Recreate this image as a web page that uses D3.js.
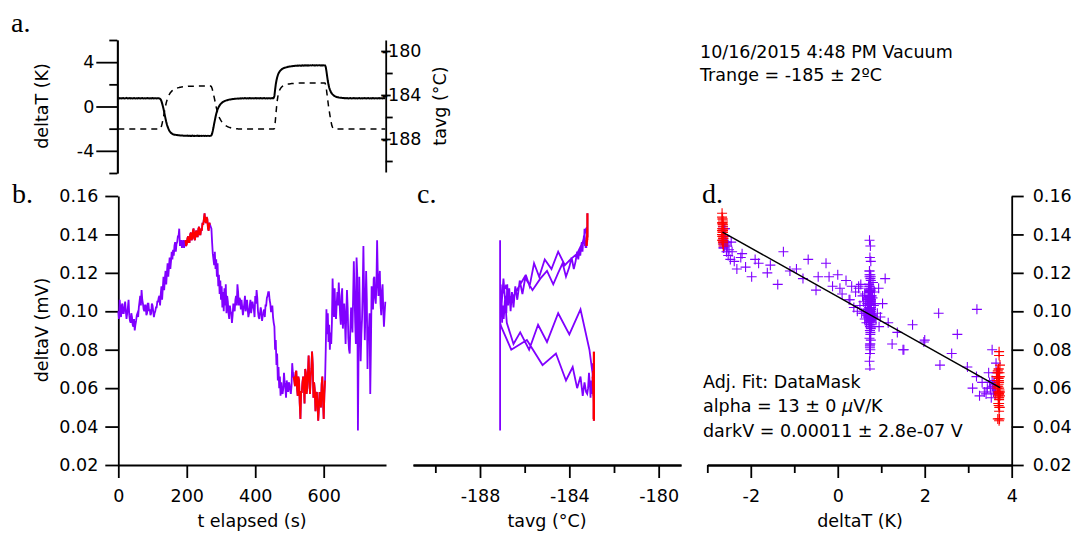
<!DOCTYPE html>
<html>
<head>
<meta charset="utf-8">
<script src="https://cdn.jsdelivr.net/npm/d3@7"></script>
<style>
  body { margin: 0; background: #fff; }
  svg { display: block; }
</style>
</head>
<body>
<div id="chart"></div>
<script>
// logged waves, one sample every 2 s (Igor style x scaling)
const tStart = 0, tDelta = 2;

// deltaV (mV)
const deltaV = [
  0.100,0.096,0.106,0.101,0.097,0.103,0.104,0.099,0.099,0.102,0.105,0.100,0.096,0.099,0.102,0.106,0.098,0.095,0.094,0.099,
  0.097,0.093,0.092,0.096,0.090,0.093,0.095,0.098,0.099,0.097,0.102,0.105,0.108,0.103,0.111,0.106,0.104,0.101,0.100,0.103,
  0.103,0.098,0.099,0.104,0.104,0.100,0.101,0.098,0.099,0.104,0.103,0.100,0.097,0.099,0.100,0.102,0.102,0.105,0.105,0.107,
  0.108,0.103,0.109,0.113,0.106,0.112,0.118,0.111,0.117,0.121,0.114,0.120,0.125,0.118,0.123,0.128,0.122,0.126,0.131,0.127,
  0.132,0.129,0.134,0.136,0.131,0.135,0.136,0.139,0.139,0.143,0.134,0.136,0.137,0.133,0.135,0.137,0.133,0.135,0.137,0.134,
  0.135,0.138,0.139,0.136,0.136,0.140,0.141,0.137,0.138,0.142,0.143,0.138,0.137,0.141,0.142,0.139,0.139,0.143,0.144,0.140,
  0.140,0.143,0.142,0.146,0.145,0.148,0.151,0.147,0.146,0.149,0.148,0.143,0.142,0.146,0.145,0.144,0.143,0.136,0.130,0.127,
  0.124,0.131,0.122,0.127,0.118,0.125,0.113,0.119,0.109,0.116,0.106,0.113,0.102,0.110,0.100,0.112,0.103,0.114,0.099,0.108,
  0.105,0.099,0.096,0.103,0.100,0.099,0.094,0.098,0.104,0.101,0.100,0.106,0.108,0.103,0.114,0.110,0.103,0.107,0.106,0.101,
  0.106,0.102,0.098,0.101,0.104,0.108,0.100,0.103,0.106,0.101,0.097,0.099,0.103,0.106,0.099,0.102,0.105,0.103,0.101,0.097,
  0.108,0.104,0.111,0.107,0.100,0.097,0.096,0.099,0.102,0.100,0.095,0.098,0.099,0.101,0.097,0.103,0.103,0.107,0.108,0.110,
  0.110,0.106,0.104,0.100,0.100,0.103,0.097,0.094,0.092,0.080,0.085,0.072,0.078,0.064,0.071,0.060,0.066,0.056,0.063,0.058,
  0.057,0.060,0.068,0.063,0.060,0.055,0.064,0.061,0.058,0.063,0.062,0.059,0.057,0.061,0.073,0.068,0.066,0.064,0.061,0.068,
  0.069,0.060,0.056,0.066,0.064,0.052,0.044,0.058,0.058,0.063,0.066,0.061,0.052,0.070,0.068,0.057,0.060,0.068,0.077,0.065,
  0.057,0.066,0.070,0.079,0.072,0.055,0.063,0.059,0.048,0.056,0.058,0.051,0.043,0.050,0.058,0.055,0.050,0.062,0.066,0.054,
  0.044,0.057,0.064,0.080,0.101,0.088,0.099,0.084,0.093,0.080,0.089,0.083,0.094,0.117,0.104,0.097,0.112,0.099,0.096,0.104,
  0.110,0.103,0.115,0.107,0.098,0.093,0.108,0.112,0.091,0.097,0.104,0.095,0.083,0.099,0.111,0.102,0.086,0.080,0.078,0.092,
  0.102,0.095,0.089,0.108,0.126,0.110,0.094,0.083,0.128,0.119,0.038,0.081,0.118,0.097,0.074,0.088,0.096,0.112,0.134,0.110,
  0.085,0.100,0.121,0.106,0.070,0.092,0.090,0.099,0.057,0.082,0.113,0.110,0.101,0.117,0.118,0.107,0.104,0.113,0.137,0.119,
  0.108,0.116,0.121,0.104,0.098,0.110,0.114,0.101,0.092,0.099,0.105
];

// deltaT (K)
const deltaT = [
  0.74,0.76,0.73,0.75,0.74,0.72,0.75,0.76,0.74,0.73,0.75,0.74,0.77,0.74,0.73,0.75,0.74,0.76,0.73,0.74,
  0.75,0.73,0.74,0.76,0.74,0.73,0.75,0.74,0.72,0.75,0.76,0.74,0.73,0.75,0.74,0.76,0.74,0.73,0.75,0.74,
  0.73,0.75,0.74,0.76,0.74,0.73,0.75,0.74,0.72,0.74,0.76,0.75,0.73,0.74,0.75,0.74,0.73,0.75,0.74,0.74,
  0.73,0.70,0.62,0.48,0.28,0.05,-0.20,-0.50,-0.80,-1.10,-1.38,-1.62,-1.82,-1.98,-2.12,-2.23,-2.32,-2.38,-2.43,-2.47,
  -2.50,-2.52,-2.54,-2.55,-2.56,-2.57,-2.58,-2.59,-2.60,-2.60,-2.61,-2.61,-2.62,-2.62,-2.62,-2.63,-2.63,-2.63,-2.64,-2.63,
  -2.64,-2.63,-2.65,-2.64,-2.64,-2.66,-2.64,-2.65,-2.63,-2.64,-2.65,-2.64,-2.66,-2.65,-2.64,-2.65,-2.63,-2.65,-2.64,-2.66,
  -2.65,-2.64,-2.66,-2.65,-2.64,-2.65,-2.66,-2.64,-2.65,-2.66,-2.65,-2.64,-2.65,-2.66,-2.65,-2.64,-2.60,-2.45,-2.20,-1.90,
  -1.55,-1.25,-0.95,-0.68,-0.45,-0.27,-0.12,0.00,0.10,0.19,0.26,0.32,0.37,0.41,0.45,0.48,0.51,0.53,0.55,0.57,
  0.59,0.60,0.62,0.63,0.64,0.65,0.66,0.67,0.68,0.68,0.69,0.70,0.70,0.71,0.72,0.71,0.72,0.73,0.72,0.74,
  0.73,0.74,0.75,0.73,0.74,0.76,0.74,0.73,0.75,0.74,0.72,0.74,0.76,0.75,0.73,0.74,0.75,0.74,0.73,0.75,
  0.74,0.76,0.73,0.74,0.75,0.74,0.72,0.75,0.76,0.74,0.73,0.75,0.74,0.76,0.74,0.73,0.75,0.74,0.72,0.74,
  0.75,0.74,0.73,0.75,0.74,0.76,0.74,0.78,0.95,1.50,2.00,2.35,2.62,2.82,2.98,3.10,3.19,3.26,3.32,3.37,
  3.41,3.44,3.47,3.49,3.51,3.53,3.55,3.56,3.58,3.59,3.60,3.61,3.62,3.63,3.64,3.65,3.65,3.66,3.67,3.67,
  3.68,3.67,3.69,3.68,3.70,3.69,3.68,3.70,3.69,3.71,3.70,3.69,3.71,3.70,3.72,3.70,3.71,3.69,3.71,3.70,
  3.71,3.72,3.70,3.71,3.73,3.71,3.70,3.72,3.71,3.73,3.72,3.70,3.71,3.72,3.73,3.71,3.72,3.70,3.72,3.71,
  3.72,3.71,3.70,3.55,3.20,2.75,2.32,1.98,1.72,1.52,1.37,1.25,1.16,1.09,1.03,0.98,0.94,0.91,0.88,0.86,
  0.84,0.83,0.81,0.80,0.79,0.78,0.78,0.77,0.76,0.77,0.75,0.76,0.74,0.75,0.76,0.74,0.73,0.75,0.74,0.76,
  0.74,0.73,0.75,0.74,0.76,0.74,0.72,0.75,0.74,0.73,0.75,0.74,0.76,0.74,0.73,0.75,0.74,0.72,0.75,0.74,
  0.76,0.74,0.73,0.75,0.74,0.76,0.74,0.73,0.75,0.74,0.72,0.74,0.76,0.75,0.73,0.74,0.75,0.74,0.73,0.75,
  0.74,0.76,0.73,0.74,0.75,0.74,0.72,0.75,0.76,0.74,0.74
];

// tavg (°C)
const tavg = [
  -187.1,-187.1,-187.1,-187.1,-187.1,-187.1,-187.1,-187.1,-187.1,-187.1,-187.1,-187.1,-187.1,-187.1,-187.1,-187.1,-187.1,-187.1,-187.1,-187.1,
  -187.1,-187.1,-187.1,-187.1,-187.1,-187.1,-187.1,-187.1,-187.1,-187.1,-187.1,-187.1,-187.1,-187.1,-187.1,-187.1,-187.1,-187.1,-187.1,-187.1,
  -187.1,-187.1,-187.1,-187.1,-187.1,-187.1,-187.1,-187.1,-187.1,-187.1,-187.1,-187.1,-187.1,-187.1,-187.1,-187.1,-187.1,-187.1,-187.1,-187.1,
  -187.1,-187.08,-187.0,-186.85,-186.6,-186.3,-186.0,-185.65,-185.3,-185.0,-184.72,-184.5,-184.3,-184.15,-184.0,-183.9,-183.8,-183.72,-183.65,-183.6,
  -183.55,-183.51,-183.47,-183.44,-183.41,-183.39,-183.37,-183.35,-183.33,-183.32,-183.3,-183.29,-183.28,-183.27,-183.26,-183.25,-183.24,-183.24,-183.23,-183.23,
  -183.22,-183.22,-183.21,-183.21,-183.21,-183.2,-183.2,-183.2,-183.2,-183.2,-183.2,-183.2,-183.2,-183.2,-183.2,-183.2,-183.19,-183.19,-183.19,-183.19,
  -183.19,-183.19,-183.19,-183.19,-183.19,-183.19,-183.19,-183.19,-183.19,-183.19,-183.19,-183.19,-183.19,-183.19,-183.19,-183.19,-183.25,-183.4,-183.65,-183.95,
  -184.2,-184.5,-184.8,-185.1,-185.35,-185.58,-185.78,-185.95,-186.1,-186.22,-186.33,-186.42,-186.5,-186.57,-186.63,-186.69,-186.74,-186.78,-186.82,-186.86,
  -186.89,-186.92,-186.94,-186.96,-186.98,-187.0,-187.01,-187.02,-187.03,-187.04,-187.05,-187.06,-187.06,-187.07,-187.07,-187.08,-187.08,-187.09,-187.09,-187.09,
  -187.1,-187.1,-187.1,-187.1,-187.1,-187.1,-187.1,-187.1,-187.1,-187.1,-187.1,-187.1,-187.1,-187.1,-187.1,-187.1,-187.1,-187.1,-187.1,-187.1,
  -187.1,-187.1,-187.1,-187.1,-187.1,-187.1,-187.1,-187.1,-187.1,-187.1,-187.1,-187.1,-187.1,-187.1,-187.1,-187.1,-187.1,-187.1,-187.1,-187.1,
  -187.1,-187.1,-187.1,-187.1,-187.1,-187.1,-187.1,-187.1,-187.05,-186.6,-185.9,-185.2,-184.6,-184.15,-183.85,-183.65,-183.5,-183.4,-183.32,-183.25,
  -183.2,-183.16,-183.12,-183.09,-183.07,-183.05,-183.03,-183.02,-183.01,-183.0,-182.99,-182.98,-182.97,-182.96,-182.96,-182.95,-182.95,-182.94,-182.94,-182.93,
  -182.93,-182.93,-182.92,-182.92,-182.92,-182.91,-182.91,-182.91,-182.9,-182.9,-182.9,-182.9,-182.9,-182.9,-182.9,-182.9,-182.9,-182.9,-182.9,-182.9,
  -182.9,-182.9,-182.9,-182.9,-182.9,-182.9,-182.9,-182.9,-182.9,-182.9,-182.9,-182.9,-182.9,-182.9,-182.9,-182.9,-182.9,-182.9,-182.9,-182.9,
  -182.9,-182.9,-182.92,-183.1,-183.5,-184.0,-184.5,-185.0,-185.4,-185.8,-186.2,-186.5,-186.8,-186.95,-187.03,-187.07,-187.09,-187.1,-187.1,-187.1,
  -187.1,-187.1,-187.1,-187.1,-187.1,-187.1,-187.1,-187.1,-187.1,-187.1,-187.1,-187.1,-187.1,-187.1,-187.1,-187.1,-187.1,-187.1,-187.1,-187.1,
  -187.1,-187.1,-187.1,-187.1,-187.1,-187.1,-187.1,-187.1,-187.1,-187.1,-187.1,-187.1,-187.1,-187.1,-187.1,-187.1,-187.1,-187.1,-187.1,-187.1,
  -187.1,-187.1,-187.1,-187.1,-187.1,-187.1,-187.1,-187.1,-187.1,-187.1,-187.1,-187.1,-187.1,-187.1,-187.1,-187.1,-187.1,-187.1,-187.1,-187.1,
  -187.1,-187.1,-187.1,-187.1,-187.1,-187.1,-187.1,-187.1,-187.1,-187.1,-187.1
];

// DataMask: time windows (s) used in the fit (drawn red)
const maskWindows = [[196, 268], [512, 604]];

// line fit of deltaV vs deltaT over the masked points
const fitSlope = -0.01268;   // mV/K
const fitOffset = 0.1076;    // mV
const fitX = [-2.65, 3.73];

const timeTicks = [0, 200, 400, 600];
const dVTicks = [0.02, 0.04, 0.06, 0.08, 0.10, 0.12, 0.14, 0.16];
const dTaTicks = [-4, 0, 4], dTaMinor = [-6, -2, 2, 6];
const tavgTicks = [-188, -184, -180], tavgMinor = [-190, -186, -182];
const dTdTicks = [-2, 0, 2, 4], dTdMinor = [-3, -1, 1, 3];

const purple = "#8000ff", red = "#ff0000";
const font = "DejaVu Sans, sans-serif";
const fs = 17.5;

const svg = d3.select("#chart").append("svg")
  .attr("width", 1076).attr("height", 535);

let samples = deltaV.map((v, i) => ({
  t: tStart + i * tDelta, dV: v, dT: deltaT[i], ta: tavg[i]
}));
samples.forEach(d => d.masked = maskWindows.some(w => d.t >= w[0] && d.t <= w[1]));

// scales
const xT = d3.scaleLinear().domain([0, 782]).range([118.3, 386]);
const yDTa = d3.scaleLinear().domain([-6, 6]).range([173, 40]);
const yTavgA = d3.scaleLinear().domain([-191, -179]).range([172, 40]);
const yV = d3.scaleLinear().domain([0.02, 0.16]).range([465, 196]);
const xTavg = d3.scaleLinear().domain([-191, -179]).range([413, 681]);
const xDT = d3.scaleLinear().domain([-3, 4]).range([707.3, 1011.7]);

function styleAxis(g) {
  g.selectAll("path.domain").attr("stroke", "#000").attr("stroke-width", 1.8);
  g.selectAll(".tick line").attr("stroke", "#000").attr("stroke-width", 1.8);
  g.selectAll(".tick text").attr("font-family", font).attr("font-size", fs).attr("fill", "#000");
}

function addText(x, y, str, opts) {
  opts = opts || {};
  let t = svg.append("text")
    .attr("x", x).attr("y", y)
    .attr("font-family", opts.family || font)
    .attr("font-size", opts.size || fs)
    .attr("text-anchor", opts.anchor || "start")
    .attr("fill", "#000")
    .text(str);
  if (opts.rotate) t.attr("transform", `rotate(-90,${x},${y})`);
  return t;
}

// ---- panel a ----
svg.append("g").attr("transform", "translate(117.3,0)")
  .call(d3.axisLeft(yDTa).tickValues(dTaMinor).tickSize(8).tickFormat("").tickSizeOuter(0))
  .call(styleAxis);
svg.append("g").attr("transform", "translate(117.3,0)")
  .call(d3.axisLeft(yDTa).tickValues(dTaTicks).tickSize(21).tickPadding(2).tickSizeOuter(0)
    .tickFormat(d => String(d)))
  .call(styleAxis);

let rightA = svg.append("g").attr("transform", "translate(385.7,0)");
rightA.call(d3.axisRight(yTavgA).tickValues(tavgMinor).tickSize(7).tickFormat("").tickSizeOuter(0))
  .call(styleAxis);
let rightA2 = svg.append("g").attr("transform", "translate(385.7,0)");
rightA2.call(d3.axisRight(yTavgA).tickValues(tavgTicks).tickSize(5).tickPadding(-9).tickSizeOuter(0)
    .tickFormat(d => String(d)))
  .call(styleAxis);
rightA2.selectAll(".tick line").attr("x1", -4.5);
rightA2.select("path.domain").remove();

svg.append("path").datum(samples)
  .attr("fill", "none").attr("stroke", "#000").attr("stroke-width", 1.5)
  .attr("stroke-dasharray", "6,5")
  .attr("d", d3.line().x(d => xT(d.t)).y(d => yTavgA(d.ta)));
svg.append("path").datum(samples)
  .attr("fill", "none").attr("stroke", "#000").attr("stroke-width", 2)
  .attr("d", d3.line().x(d => xT(d.t)).y(d => yDTa(d.dT)));

addText(48, 106, "deltaT (K)", { anchor: "middle", rotate: true });
addText(446, 106, "tavg (°C)", { anchor: "middle", rotate: true });

// ---- panel b ----
svg.append("g").attr("transform", "translate(118.3,0)")
  .call(d3.axisLeft(yV).tickValues(dVTicks).tickSize(13).tickPadding(7).tickSizeOuter(0)
    .tickFormat(d3.format(".2f")))
  .call(styleAxis);
svg.append("g").attr("transform", "translate(0,465)")
  .call(d3.axisBottom(xT).tickValues(timeTicks).tickSize(13).tickPadding(12).tickSizeOuter(0)
    .tickFormat(d => String(d)))
  .call(styleAxis);

let lineB = d3.line().x(d => xT(d.t)).y(d => yV(d.dV));
svg.append("path").datum(samples)
  .attr("fill", "none").attr("stroke", purple).attr("stroke-width", 1.8)
  .attr("d", lineB);
maskWindows.forEach(w => {
  svg.append("path").datum(samples.filter(d => d.t >= w[0] && d.t <= w[1]))
    .attr("fill", "none").attr("stroke", red).attr("stroke-width", 1.8)
    .attr("d", lineB);
});

addText(48, 330, "deltaV (mV)", { anchor: "middle", rotate: true });
addText(252, 527, "t elapsed (s)", { anchor: "middle" });

// ---- panel c ----
svg.append("g").attr("transform", "translate(0,465)")
  .call(d3.axisBottom(xTavg).tickValues(tavgMinor).tickSize(8).tickFormat("").tickSizeOuter(0))
  .call(styleAxis);
svg.append("g").attr("transform", "translate(0,465)")
  .call(d3.axisBottom(xTavg).tickValues(tavgTicks).tickSize(13).tickPadding(12).tickSizeOuter(0)
    .tickFormat(d => String(d)))
  .call(styleAxis);

let lineC = d3.line().x(d => xTavg(d.ta)).y(d => yV(d.dV));
svg.append("path").datum(samples)
  .attr("fill", "none").attr("stroke", purple).attr("stroke-width", 1.8)
  .attr("d", lineC);
maskWindows.forEach(w => {
  svg.append("path").datum(samples.filter(d => d.t >= w[0] && d.t <= w[1]))
    .attr("fill", "none").attr("stroke", red).attr("stroke-width", 2.2)
    .attr("d", lineC);
});

addText(547, 527, "tavg (°C)", { anchor: "middle" });

// ---- panel d ----
svg.append("g").attr("transform", "translate(0,465)")
  .call(d3.axisBottom(xDT).tickValues(dTdMinor).tickSize(8).tickFormat("").tickSizeOuter(0))
  .call(styleAxis);
svg.append("g").attr("transform", "translate(0,465)")
  .call(d3.axisBottom(xDT).tickValues(dTdTicks).tickSize(13).tickPadding(12).tickSizeOuter(0)
    .tickFormat(d => String(d)))
  .call(styleAxis);
svg.append("g").attr("transform", "translate(1011.7,0)")
  .call(d3.axisRight(yV).tickValues(dVTicks).tickSize(12).tickPadding(9).tickSizeOuter(0)
    .tickFormat(d3.format(".2f")))
  .call(styleAxis);

const cross = "M-5,0H5M0,-5V5";
svg.append("g").selectAll("path")
  .data(samples.filter(d => !d.masked))
  .join("path")
  .attr("d", cross)
  .attr("transform", d => `translate(${xDT(d.dT)},${yV(d.dV)})`)
  .attr("stroke", purple).attr("stroke-width", 1.1).attr("fill", "none");
svg.append("g").selectAll("path")
  .data(samples.filter(d => d.masked))
  .join("path")
  .attr("d", cross)
  .attr("transform", d => `translate(${xDT(d.dT)},${yV(d.dV)})`)
  .attr("stroke", red).attr("stroke-width", 1.1).attr("fill", "none");

svg.append("path").datum(fitX)
  .attr("fill", "none").attr("stroke", "#000").attr("stroke-width", 1.5)
  .attr("d", d3.line().x(d => xDT(d)).y(d => yV(fitOffset + fitSlope * d)));

// fit annotation sits on an opaque box, like the Igor textbox
svg.append("rect")
  .attr("x", 700).attr("y", 371).attr("width", 267).attr("height", 75)
  .attr("fill", "#fff");
addText(703, 388, "Adj. Fit: DataMask");
let alphaText = addText(703, 412, "alpha = 13 ± 0 ");
alphaText.append("tspan").attr("font-style", "italic").text("μ");
alphaText.append("tspan").text("V/K");
addText(703, 437, "darkV = 0.00011 ± 2.8e-07 V");
addText(860, 527, "deltaT (K)", { anchor: "middle" });

// ---- header text and panel letters ----
addText(700, 58, "10/16/2015 4:48 PM Vacuum");
addText(700, 81, "Trange = -185 ± 2ºC");

const serif = "Liberation Serif, Times New Roman, serif";
addText(11, 32, "a.", { family: serif, size: 28 });
addText(12, 203, "b.", { family: serif, size: 28 });
addText(417, 203, "c.", { family: serif, size: 28 });
addText(702, 203, "d.", { family: serif, size: 28 });
</script>
</body>
</html>
